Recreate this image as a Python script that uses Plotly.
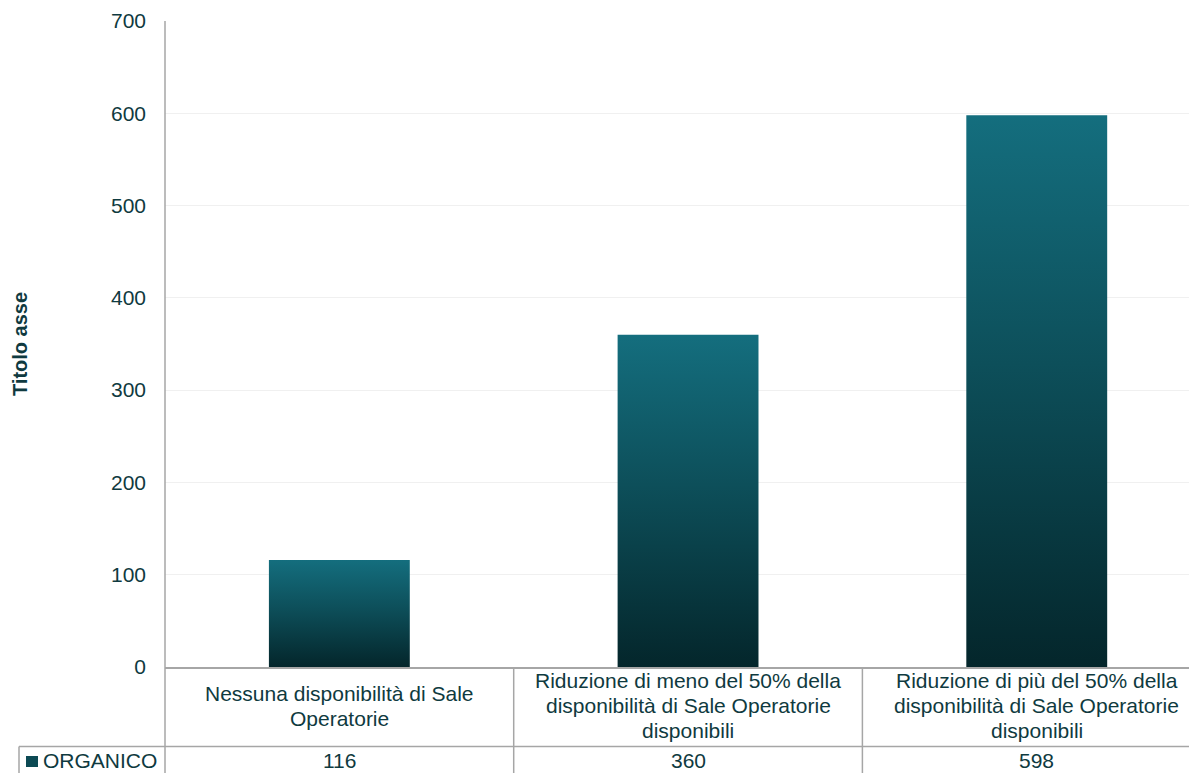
import plotly.graph_objects as go

categories = [
    "Nessuna disponibilità di Sale<br>Operatorie",
    "Riduzione di meno del 50% della<br>disponibilità di Sale Operatorie<br>disponibili",
    "Riduzione di più del 50% della<br>disponibilità di Sale Operatorie<br>disponibili",
]
series_name = "ORGANICO"
values = [116, 360, 598]
y_ticks = [0, 100, 200, 300, 400, 500, 600, 700]
y_title = "Titolo asse"

TXT = "#0f3a40"
GRID = "#f0f0f0"
LINE = "#a6a6a6"
FONT = "Liberation Sans, Arial, sans-serif"
FS = 21
OFF = 8  # page body margin
SW, SH = 1197, 773  # screen size
W, H = SW - OFF, SH - OFF
PL, PR, PT, PB = 165, 1197, 21, 667  # plot area in screen pixels
ML, MR, MT, MB = PL - OFF, SW - PR, PT - OFF, SH - PB
plot_w = PR - PL
plot_h = PB - PT
cat_px = 348.7
bar_w = 0.404


def py(p):
    return (PB - p) / plot_h


def px(p):
    return (p - PL) / plot_w


fig = go.Figure()
for i, v in enumerate(values):
    x0, x1 = i - bar_w / 2, i + bar_w / 2
    fig.add_trace(go.Scatter(
        x=[x0, x0, x1, x1, x0], y=[0, v, v, 0, 0],
        mode="lines", fill="toself", line=dict(width=0),
        fillgradient=dict(type="vertical",
                          colorscale=[[0, "#04262b"], [0.55, "#0d4f5a"], [1, "#146e7e"]]),
        hoverinfo="skip", showlegend=False,
    ))

shapes = []
shapes.append(dict(type="line", xref="paper", yref="paper", x0=px(19), x1=1.0,
                   y0=py(746.5), y1=py(746.5), line=dict(color=LINE, width=1.5)))
shapes.append(dict(type="line", xref="paper", yref="paper", x0=px(19), x1=px(19),
                   y0=py(746.5), y1=py(776), line=dict(color=LINE, width=1.5)))
shapes.append(dict(type="line", xref="paper", yref="paper", x0=0, x1=0,
                   y0=1, y1=py(776), line=dict(color=LINE, width=1.5)))
for i in range(len(categories) - 1):
    shapes.append(dict(type="line", xref="x", yref="paper", x0=i + 0.5, x1=i + 0.5,
                       y0=0, y1=py(776), line=dict(color=LINE, width=1.5)))
shapes.append(dict(type="rect", xref="paper", yref="paper", x0=px(26), x1=px(38),
                   y0=py(767), y1=py(756), fillcolor="#0c4a54", line=dict(width=0)))

annotations = []
LH = 25
for i, c in enumerate(categories):
    lines = c.split("<br>")
    n = len(lines)
    for j, ln in enumerate(lines):
        cy = 705.5 + (j - (n - 1) / 2) * LH
        annotations.append(dict(x=i, y=py(cy), xref="x", yref="paper", text=ln,
                                showarrow=False, xanchor="center", yanchor="middle",
                                font=dict(size=FS, color=TXT, family=FONT)))
    annotations.append(dict(x=i, y=py(761), xref="x", yref="paper", text=str(values[i]),
                            showarrow=False, xanchor="center", yanchor="middle",
                            font=dict(size=FS, color=TXT, family=FONT)))
annotations.append(dict(x=px(41), y=py(761), xref="paper", yref="paper", text=series_name,
                        showarrow=False, xanchor="left", yanchor="middle",
                        font=dict(size=FS, color=TXT, family=FONT)))
annotations.append(dict(x=px(20), y=py(344), xref="paper", yref="paper",
                        text="<b>" + y_title + "</b>", textangle=-90,
                        showarrow=False, xanchor="center", yanchor="middle",
                        font=dict(size=FS - 1, color=TXT, family=FONT)))

fig.update_layout(
    width=W, height=H,
    margin=dict(l=ML, r=MR, t=MT, b=MB, pad=0),
    paper_bgcolor="white", plot_bgcolor="white",
    font=dict(family=FONT, size=FS, color=TXT),
    showlegend=False,
    shapes=shapes, annotations=annotations,
    xaxis=dict(range=[-0.5, -0.5 + plot_w / cat_px], showticklabels=False,
               showgrid=False, zeroline=False, showline=True, linecolor=LINE,
               linewidth=2, ticks="", fixedrange=True),
    yaxis=dict(range=[0, 700], tickvals=y_ticks, showgrid=True, gridcolor=GRID,
               gridwidth=1, zeroline=False, showline=False, ticks="",
               ticklabelstandoff=18,
               tickfont=dict(size=FS, color=TXT, family=FONT)),
)

fig.write_html("out.html")
